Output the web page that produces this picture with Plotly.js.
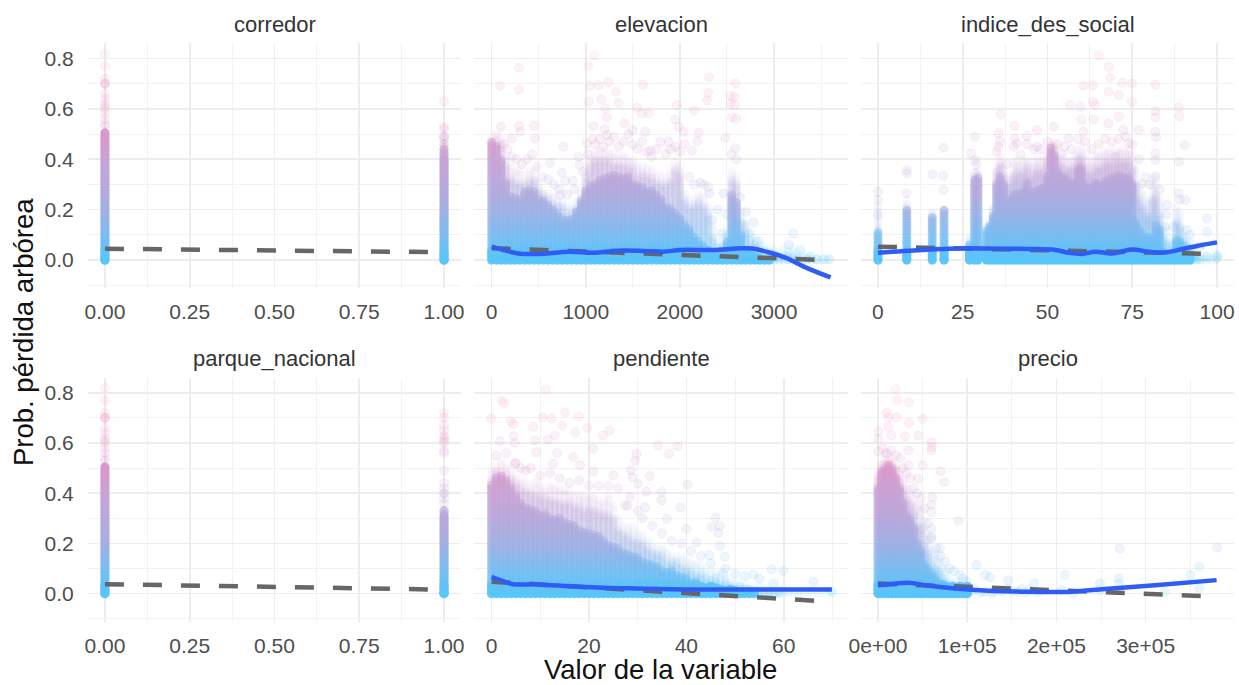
<!DOCTYPE html>
<html><head><meta charset="utf-8">
<script src="https://cdn.plot.ly/plotly-3.0.1.min.js"></script>
<style>html,body{margin:0;padding:0;background:#fff}#c{width:1239px;height:685px}</style>
</head><body><div id="c"></div>
<script>
// ---------- values ----------
const panelNames = ["corredor","elevacion","indice_des_social","parque_nacional","pendiente","precio"];
const axisTitleY = "Prob. pérdida arbórea";
const axisTitleX = "Valor de la variable";
const probTicks = [0,0.2,0.4,0.6,0.8];
const probLabels = ["0.0","0.2","0.4","0.6","0.8"];
const levelsA = [0,.012,.024,.036,.048,.06,.072,.084,.096,.108,.12,.132,.144,.156,.168,.18,.192,.204,.216,.228,.24,.252,.264,.276,.288,.30,.312,.324,.336,.348,.36,.372,.384,.396,.408,.42,.432,.444,.456,.468,.48,.492,.504,.516,.528,.54];
const levelsB = [0,.006,.018,.03,.042,.054,.066,.078,.09,.102,.114,.126,.138,.15,.162,.174,.186,.198,.21,.222,.234,.246,.258,.27,.282,.294,.306,.318,.33,.342,.354,.366,.378,.39,.402,.414,.426,.438,.45,.462,.474,.486,.498,.51,.522,.534];
const baseBand = .036; // height of the fully opaque band along the bottom of each cloud

// corredor
const corX = [0,1];
const corSolid = [.51,.41];
const corMid = [.51,.44];
const corHaze = [.51,.47];
const corOutX = [0,0,0,0,0,0,0,0,0,0,0,0,0,0,0,1,1,1,1,1,1,1,1,1];
const corOutY = [.82,.77,.72,.70,.70,.70,.66,.64,.62,.61,.60,.58,.56,.54,.53,.42,.44,.46,.48,.49,.49,.52,.53,.63];
const corLineX = [0,1];
const corDash = [.045,.031];
const corTickV = [0,.25,.5,.75,1];
const corTickT = ["0.00","0.25","0.50","0.75","1.00"];

// parque_nacional
const parX = [0,1];
const parSolid = [.51,.31];
const parMid = [.51,.33];
const parHaze = [.51,.33];
const parOutX = [0,0,0,0,0,0,0,0,0,0,0,0,0,0,0,1,1,1,1,1,1,1,1,1,1,1,1,1,1,1,1,1,1];
const parOutY = [.82,.77,.72,.70,.70,.70,.66,.64,.62,.61,.60,.58,.56,.54,.53,.33,.36,.38,.40,.40,.42,.44,.49,.56,.57,.60,.61,.62,.63,.65,.67,.70,.72];
const parLineX = [0,1];
const parDash = [.038,.016];

// elevacion
const eleX = [0,50,100,150,200,250,300,350,400,450,500,550,600,650,700,750,800,850,900,950,1000,1050,1100,1150,1200,1250,1300,1350,1400,1450,1500,1550,1600,1650,1700,1750,1800,1850,1900,1950,2000,2050,2100,2150,2200,2250,2300,2350,2400,2450,2500,2550,2600,2650,2700,2750,2800,2850,2900,2950,3000,3050,3100,3150,3200,3250,3300,3350,3400,3450,3500,3550,3600];
const eleHaze = [.50,.51,.50,.42,.38,.36,.36,.34,.36,.36,.32,.28,.27,.26,.25,.24,.22,.22,.24,.28,.37,.42,.44,.44,.44,.43,.42,.42,.42,.41,.40,.38,.38,.37,.37,.35,.34,.34,.36,.40,.38,.28,.24,.25,.27,.26,.22,.14,.08,.09,.13,.36,.34,.20,.15,.12,.10,.08,.06,.05,.05,.04,.05,.05,.05,.04,.03,.02,.015,.01,.005,.005,.005];
const eleMid = [.47,.48,.46,.38,.33,.31,.31,.30,.32,.32,.28,.26,.24,.23,.22,.21,.19,.19,.21,.25,.33,.38,.40,.40,.40,.39,.38,.38,.38,.37,.36,.34,.34,.33,.33,.31,.30,.30,.32,.36,.34,.24,.20,.21,.23,.22,.18,.10,.05,.06,.10,.32,.30,.16,.11,.08,.06,.05,.04,.03,.03,.02,.02,.02,.02,.01,.01,.01,.005];
const eleSolid = [.47,.46,.40,.31,.26,.25,.25,.27,.28,.27,.25,.24,.22,.20,.19,.17,.16,.17,.20,.24,.28,.30,.31,.32,.33,.33,.34,.34,.33,.33,.31,.30,.29,.28,.28,.26,.24,.22,.21,.19,.17,.14,.12,.10,.08,.06,.04,.03,.03,.04,.08,.26,.23,.11,.04,.03,.02,.015,.01,.005];
const eleOutX = [1089,1028,291,291,89,1046,1135,1241,1606,2312,2301,2287,2589,2536,2578,2536,2582,2553,2599,1319,1028,1163,1348,1206,1968,2153,1543,1596,1667,1223,1950,291,450,301,461,1082,1411,1986,2199,2039,1223,1500,1631,1791,1879,2482,2181,762,1188,1011,1684,2128,2589,213,621,922,933,745,780,862,2216,2316,2465,727,2092,2340,2677,2447,3202,3156,3280,3387,3582,3528,3457,2819,2730,1100,1150,1200,1250,1300,1350,1400,1450,1500,1550,1600,1650,1700,1750,1850,1900,1950,2000,2050,2100,2150,2250,2300,2400,2500,2550,2600,2640,2700,2780,100,130,170,210,260,320,380,430,480,540,600,660,720,800,880,970,1020,1070];
const eleOutY = [.813,.77,.763,.677,.692,.692,.694,.705,.697,.725,.664,.635,.701,.651,.648,.619,.615,.566,.562,.668,.628,.638,.624,.602,.615,.595,.606,.582,.582,.566,.558,.533,.533,.509,.483,.532,.542,.529,.505,.509,.496,.516,.509,.47,.47,.485,.472,.45,.45,.463,.434,.434,.443,.483,.386,.41,.377,.347,.315,.315,.308,.265,.265,.258,.205,.159,.139,.106,.106,.06,.04,.013,.003,.003,.003,.073,.106,.46,.48,.52,.47,.49,.45,.47,.5,.46,.44,.47,.43,.41,.44,.42,.44,.45,.43,.46,.33,.30,.3,.29,.2,.18,.42,.4,.25,.19,.15,.53,.46,.44,.41,.4,.38,.4,.42,.37,.33,.32,.3,.28,.26,.28,.35,.42,.48];
const eleDashX = [0,3600];
const eleDash = [.047,-.001];
const eleFitX = [0,124,284,479,833,1082,1330,1613,1826,2004,2358,2606,2766,2961,3138,3316,3600];
const eleFit = [.053,.04,.026,.024,.033,.029,.037,.036,.033,.04,.04,.046,.046,.029,.007,-.026,-.069];
const eleTickV = [0,1000,2000,3000];
const eleTickT = ["0","1000","2000","3000"];

// indice_des_social
const indX = [0,8.5,16,19.5,27,28.5,29.5,32,33,34,35,36,37,38,39,40,41,42,43,44,45,46,47,48,49,50,51,52,53,54,55,56,57,58,59,60,61,62,63,64,65,66,67,68,69,70,71,72,73,74,75,76,77,78,79,80,81,82,83,84,85,86,87,88,89,90,91,92,93,94,95,96,97,98,99,100];
const indHaze = [.22,.24,.2,.2,.1,.34,.36,.14,.16,.22,.38,.42,.38,.33,.34,.4,.40,.38,.40,.41,.38,.40,.41,.40,.41,.43,.47,.47,.42,.41,.41,.4,.40,.42,.44,.45,.42,.40,.39,.42,.42,.42,.44,.44,.43,.44,.44,.44,.44,.44,.42,.37,.30,.27,.24,.24,.33,.34,.24,.14,.13,.07,.10,.22,.2,.12,.09,.08,.05,.03,.02,.02,.02,.01,.01,.02];
const indMid = [.13,.22,.18,.2,.08,.33,.34,.13,.15,.2,.35,.38,.34,.29,.30,.34,.35,.33,.35,.37,.33,.35,.36,.35,.36,.39,.46,.45,.39,.38,.37,.36,.36,.37,.40,.41,.37,.35,.34,.37,.37,.37,.39,.39,.38,.39,.39,.39,.39,.39,.37,.30,.24,.21,.18,.18,.24,.26,.18,.09,.08,.04,.06,.15,.14,.08,.06,.05,.03,.02,.01];
const indSolid = [.11,.20,.17,.2,.06,.32,.33,.12,.14,.18,.31,.34,.30,.24,.25,.26,.27,.26,.28,.31,.27,.28,.28,.29,.29,.33,.45,.42,.35,.34,.33,.32,.30,.31,.36,.37,.3,.29,.29,.31,.31,.3,.32,.32,.33,.34,.34,.33,.33,.33,.3,.16,.12,.11,.09,.09,.09,.14,.12,.03,.03,.02,.03,.08,.08,.06,.04,.02];
const indOutX = [65.1,68,68.5,72,74.9,81.8,60.6,63.4,68,71,63.3,56.7,59.7,74.9,64,71,36.2,81.8,81.8,88.7,88.9,60,63.6,68,40.3,46.9,51.8,35.5,28.6,43.9,40.3,60.6,72.4,76.9,81.8,82,35.5,41,46.9,56.2,19.3,27.5,28.6,28.6,90.4,88.7,8.5,8.5,16.1,19.3,0,0,0,8.5,19.3,77.9,81.8,85.2,90.6,88.7,97,97,84.7,92,100,97,95,100,73.9,70,54.2,81.8,81.8,35,36,38,40,42,44,46,48,50,53,55,57,59,61,63,65,67,69,71,73,75,77,79,80,83,85,87,89,91,29];
const indOutY = [.813,.767,.724,.704,.701,.697,.692,.694,.668,.655,.628,.615,.608,.628,.615,.569,.578,.591,.566,.606,.571,.558,.558,.542,.533,.516,.529,.503,.489,.492,.483,.509,.516,.516,.509,.487,.45,.463,.45,.483,.446,.423,.397,.344,.456,.39,.357,.344,.34,.335,.271,.238,.179,.265,.278,.304,.331,.218,.238,.265,.165,.112,.132,.1,.02,.013,.053,.009,.463,.41,.423,.423,.397,.43,.47,.38,.45,.42,.46,.44,.44,.47,.46,.45,.44,.48,.47,.44,.46,.48,.47,.48,.49,.46,.4,.33,.3,.28,.18,.13,.24,.12,.38];
const indDashX = [0,100];
const indDash = [.053,.024];
const indFitX = [0,12.9,22.7,32.6,44.4,52.3,56.2,60.1,64.1,69,74.9,79.8,84.7,90.6,95.6,100];
const indFit = [.029,.04,.046,.046,.044,.04,.029,.024,.033,.026,.042,.033,.03,.046,.06,.07];
const indTickV = [0,25,50,75,100];
const indTickT = ["0","25","50","75","100"];

// pendiente
const penX = [0,1,2,3,4,5,6,7,8,9,10,11,12,13,14,15,16,17,18,19,20,21,22,23,24,25,26,27,28,29,30,31,32,33,34,35,36,37,38,39,40,41,42,43,44,45,46,47,48,49,50,51,52,53,54,55,56,57,58,59,60,61,62,63,64,65,66,67,68,69,70];
const penHaze = [.50,.52,.53,.52,.50,.48,.46,.45,.44,.45,.44,.42,.44,.43,.42,.42,.41,.40,.40,.40,.39,.40,.38,.37,.40,.36,.30,.28,.27,.27,.25,.24,.22,.20,.19,.19,.17,.16,.15,.15,.14,.13,.12,.12,.10,.09,.09,.08,.07,.06,.05,.05,.04,.03,.03,.03,.025,.025,.02,.02,.015,.015,.01,.01,.01,.005,.005,.005,.005,.005,.005];
const penMid = [.46,.49,.49,.48,.46,.44,.42,.41,.40,.40,.39,.38,.38,.37,.37,.36,.36,.35,.35,.34,.34,.34,.33,.32,.32,.30,.26,.24,.23,.22,.21,.20,.18,.17,.16,.15,.13,.13,.12,.11,.10,.09,.08,.08,.07,.06,.06,.05,.05,.04,.035,.03,.025,.02,.02,.015,.01,.01,.01,.01];
const penSolid = [.44,.47,.47,.46,.43,.40,.37,.35,.34,.33,.32,.32,.31,.30,.30,.29,.28,.27,.26,.25,.25,.24,.23,.21,.20,.19,.18,.17,.16,.15,.15,.13,.13,.12,.11,.10,.09,.09,.08,.07,.06,.05,.05,.04,.03,.03,.03,.02,.02,.02,.015,.01,.01,.01,.01];
const penOutX = [11.1,2.1,2.6,0,3.9,4.5,10.5,12.3,15.1,17.9,8.6,14.5,19.7,17.2,24.2,22.9,13,4.5,4.8,1.7,8.9,11.6,20.9,34.2,38.2,29.8,36.5,29.5,13.5,9.2,16.8,4.8,12.7,18.2,20.9,25,28.6,28.9,32.5,40.2,30.1,34.9,31.8,28.4,34.9,38.8,27.4,31.5,36,46,46.9,45.2,46.6,46.9,42.1,47.9,44.7,40,53.8,57.5,59.9,66.1,69.9,47.6,57.9,1,3,5,6,7,8,10,12,14,16,18,20,22,24,26,28,30,31,33,35,37,39,41,43,45,48,50,52,55];
const penOutY = [.812,.769,.759,.696,.687,.676,.702,.698,.722,.706,.665,.669,.66,.643,.649,.63,.63,.627,.6,.606,.61,.614,.577,.59,.586,.557,.557,.53,.56,.563,.544,.517,.517,.511,.487,.471,.491,.464,.468,.434,.438,.405,.407,.385,.372,.343,.352,.343,.299,.302,.269,.266,.242,.19,.204,.147,.153,.259,.077,.098,.091,.048,.008,.081,.041,.55,.56,.52,.5,.49,.5,.47,.48,.46,.44,.45,.43,.43,.43,.42,.35,.33,.3,.27,.24,.21,.2,.17,.15,.12,.1,.08,.07,.06];
const penDashX = [0,70];
const penDash = [.048,-.032];
const penFitX = [0,2.4,4.5,9.2,16.1,22.9,29.8,40,69.9];
const penFit = [.067,.05,.038,.037,.03,.024,.021,.017,.017];
const penTickV = [0,20,40,60];
const penTickT = ["0","20","40","60"];

// precio
const preX = [0,4000,8000,12000,16000,20000,24000,28000,32000,36000,40000,44000,48000,52000,56000,60000,64000,68000,72000,76000,80000,84000,88000,92000,96000,100000];
const preHaze = [.50,.53,.54,.55,.54,.52,.50,.47,.44,.42,.38,.36,.35,.30,.24,.18,.16,.14,.11,.09,.07,.05,.05,.05,.03,.03];
const preMid = [.47,.51,.52,.53,.52,.50,.46,.42,.38,.36,.33,.28,.26,.2,.16,.12,.10,.09,.07,.05,.04,.03,.03,.03,.02,.02];
const preSolid = [.42,.49,.50,.51,.50,.47,.42,.37,.32,.30,.27,.20,.17,.12,.10,.08,.06,.05,.04,.03,.03,.03,.03,.03,.03,.03];
const preOutX = [19800,22000,34700,9700,11600,20900,50100,34700,11600,400,45200,30300,15300,400,60100,60100,60100,34000,400,9000,50100,34000,70200,74300,45200,24700,60900,60100,60100,90000,48900,60100,60100,69500,75000,110600,271000,380000,360000,350000,209500,270000,270000,360000,248700,248700,120000,125500,146000,175000,179700,218900,157000,138600,120000,92000,99000,321600,205800,161000,105000,115000,130000,150000,165000,170000,145000,128000,108000,5000,10000,15000,20000,25000,28000,32000,36000,40000,44000,48000,52000,56000,60000,65000,70000,80000,85000,95000];
const preOutY = [.815,.771,.762,.722,.702,.702,.696,.68,.665,.647,.63,.626,.63,.616,.603,.583,.57,.57,.566,.557,.511,.511,.487,.444,.458,.407,.385,.354,.325,.291,.259,.259,.226,.18,.127,.114,.18,.184,.108,.074,.074,.061,.041,.021,.041,.015,.074,.065,.054,.041,.008,.001,.008,.008,.008,.074,.048,.008,.015,.019,.01,.005,.012,.01,.004,.015,.02,.002,.02,.58,.56,.57,.55,.54,.5,.48,.46,.42,.4,.38,.34,.28,.22,.18,.15,.1,.09,.06];
const preDashX = [0,380000];
const preDash = [.041,-.012];
const preFitX = [0,11600,34000,52700,86300,123600,161000,217000,254400,310400,379500];
const preFit = [.034,.037,.044,.034,.021,.012,.008,.008,.019,.034,.054];
const preTickV = [0,100000,200000,300000];
const preTickT = ["0e+00","1e+05","2e+05","3e+05"];

// ---------- styling and layout ----------
const stops = [[0,"#56C5FB"],[.125,"#78BDF2"],[.25,"#A0B0E4"],[.375,"#B8A8DC"],[.5,"#C9A3D6"],[.625,"#D898CC"],[.875,"#F29CC8"],[1,"#F6A8CE"]];
function rgba(hex,a){const n=parseInt(hex.slice(1),16);return `rgba(${n>>16},${(n>>8)&255},${n&255},${a})`;}
function scale(a){return stops.map(s=>[s[0],rgba(s[1],a)]);}
const W=1239,H=685;
const panels = [
 {name:0,ax:"",dom:[88,461],row:0,range:[-.05,1.05],minor:.125,tv:corTickV,tt:corTickT,x:corX,haze:corHaze,mid:corMid,solid:corSolid,ox:corOutX,oy:corOutY,dx:corLineX,dy:corDash,a:[.2,.5,.95]},
 {name:1,ax:"2",dom:[474,848],row:0,range:[-188,3786],minor:500,tv:eleTickV,tt:eleTickT,x:eleX,haze:eleHaze,mid:eleMid,solid:eleSolid,ox:eleOutX,oy:eleOutY,dx:eleDashX,dy:eleDash,fx:eleFitX,fy:eleFit},
 {name:2,ax:"3",dom:[861,1234],row:0,range:[-5,105],minor:12.5,tv:indTickV,tt:indTickT,x:indX,haze:indHaze,mid:indMid,solid:indSolid,ox:indOutX,oy:indOutY,dx:indDashX,dy:indDash,fx:indFitX,fy:indFit},
 {name:3,ax:"4",dom:[88,461],row:1,range:[-.05,1.05],minor:.125,tv:corTickV,tt:corTickT,x:parX,haze:parHaze,mid:parMid,solid:parSolid,ox:parOutX,oy:parOutY,dx:parLineX,dy:parDash,a:[.2,.5,.95]},
 {name:4,ax:"5",dom:[474,848],row:1,range:[-3.6,73.2],minor:10,tv:penTickV,tt:penTickT,x:penX,haze:penHaze,mid:penMid,solid:penSolid,ox:penOutX,oy:penOutY,dx:penDashX,dy:penDash,fx:penFitX,fy:penFit},
 {name:5,ax:"6",dom:[861,1234],row:1,range:[-19000,399000],minor:50000,tv:preTickV,tt:preTickT,x:preX,haze:preHaze,mid:preMid,solid:preSolid,ox:preOutX,oy:preOutY,dx:preDashX,dy:preDash,fx:preFitX,fy:preFit}
];
const rows = [{top:43,bottom:288,range:[-.111,.8615],label:24},{top:378,bottom:622,range:[-.1127,.8587],label:358}];
const tickFont={family:"Liberation Sans, Arial, sans-serif",size:21,color:"#4D4D4D"};

function layer(p,tops,alpha,size,ring,cap){
  const xs=[],ys=[];
  tops.forEach((t,i)=>{(i%2?levelsB:levelsA).forEach(l=>{if((l<=t&&l<=(cap===undefined?1:cap))||l===0){xs.push(p.x[i]);ys.push(l);}});});
  return points(p,xs,ys,alpha,size,ring);
}
function points(p,xs,ys,alpha,size,ring){
  return {type:"scatter",mode:"markers",x:xs,y:ys,xaxis:"x"+p.ax,yaxis:"y"+p.ax,hoverinfo:"skip",
    marker:{size:size,color:ys,cmin:0,cmax:.8,colorscale:scale(alpha),showscale:false,
      line:ring?{width:1,color:ys,cmin:0,cmax:.8,colorscale:scale(alpha)}:{width:0}}};
}
const traces=[];
const layout={width:W,height:H,margin:{l:0,r:0,t:0,b:0},showlegend:false,paper_bgcolor:"#fff",plot_bgcolor:"#fff",
  font:{family:"Liberation Sans, Arial, sans-serif"},annotations:[]};
panels.forEach(p=>{
  const r=rows[p.row];
  const a=p.a||[.05,.12,.5];
  traces.push(layer(p,p.haze,a[0],9,false));
  traces.push(layer(p,p.mid,a[1],9,false));
  traces.push(layer(p,p.solid,a[2],9,false));
  traces.push(layer(p,p.solid,.85,9,false,baseBand));
  traces.push(points(p,p.ox,p.oy,.14,9,true));
  traces.push({type:"scatter",mode:"lines",x:p.dx,y:p.dy,xaxis:"x"+p.ax,yaxis:"y"+p.ax,hoverinfo:"skip",
    line:{color:"#666666",width:4.5,dash:"19px,19px"}});
  if(p.fx) traces.push({type:"scatter",mode:"lines",x:p.fx,y:p.fy,xaxis:"x"+p.ax,yaxis:"y"+p.ax,hoverinfo:"skip",
    line:{color:"#2F5CF5",width:4.5,shape:"spline"}});
  const isLeft=p.name%3===0;
  layout["xaxis"+p.ax]={domain:[p.dom[0]/W,p.dom[1]/W],range:p.range,anchor:"y"+p.ax,zeroline:false,showline:false,
    tickmode:"array",tickvals:p.tv,ticktext:p.tt,tickfont:tickFont,ticks:"outside",ticklen:5,tickcolor:"rgba(0,0,0,0)",
    showgrid:true,gridcolor:"#EDEDED",gridwidth:1.6,
    minor:{showgrid:true,tickmode:"linear",tick0:0,dtick:p.minor,gridcolor:"#F2F2F2",gridwidth:1,ticks:""}};
  layout["yaxis"+p.ax]={domain:[1-r.bottom/H,1-r.top/H],range:r.range,anchor:"x"+p.ax,zeroline:false,showline:false,
    tickmode:"array",tickvals:probTicks,ticktext:isLeft?probLabels:["","","","",""],tickfont:tickFont,ticks:"outside",ticklen:9,tickcolor:"rgba(0,0,0,0)",
    showgrid:true,gridcolor:"#EDEDED",gridwidth:1.6,
    minor:{showgrid:true,tickmode:"linear",tick0:0,dtick:.1,gridcolor:"#F2F2F2",gridwidth:1,ticks:""}};
  layout.annotations.push({xref:"paper",yref:"paper",x:(p.dom[0]+p.dom[1])/2/W,y:1-r.label/H,text:panelNames[p.name],showarrow:false,
    xanchor:"center",yanchor:"middle",font:{family:"Liberation Sans, Arial, sans-serif",size:22,color:"#333"}});
});
layout.annotations.push({xref:"paper",yref:"paper",x:660/W,y:1-669/H,text:axisTitleX,showarrow:false,xanchor:"center",yanchor:"middle",borderpad:0,
  font:{family:"Liberation Sans, Arial, sans-serif",size:27.5,color:"#111"}});
layout.annotations.push({xref:"paper",yref:"paper",x:24/W,y:1-332/H,text:axisTitleY,showarrow:false,textangle:-90,xanchor:"center",yanchor:"middle",
  font:{family:"Liberation Sans, Arial, sans-serif",size:27.5,color:"#111"}});
Plotly.newPlot("c",traces,layout,{displayModeBar:false,staticPlot:true});
</script></body></html>
